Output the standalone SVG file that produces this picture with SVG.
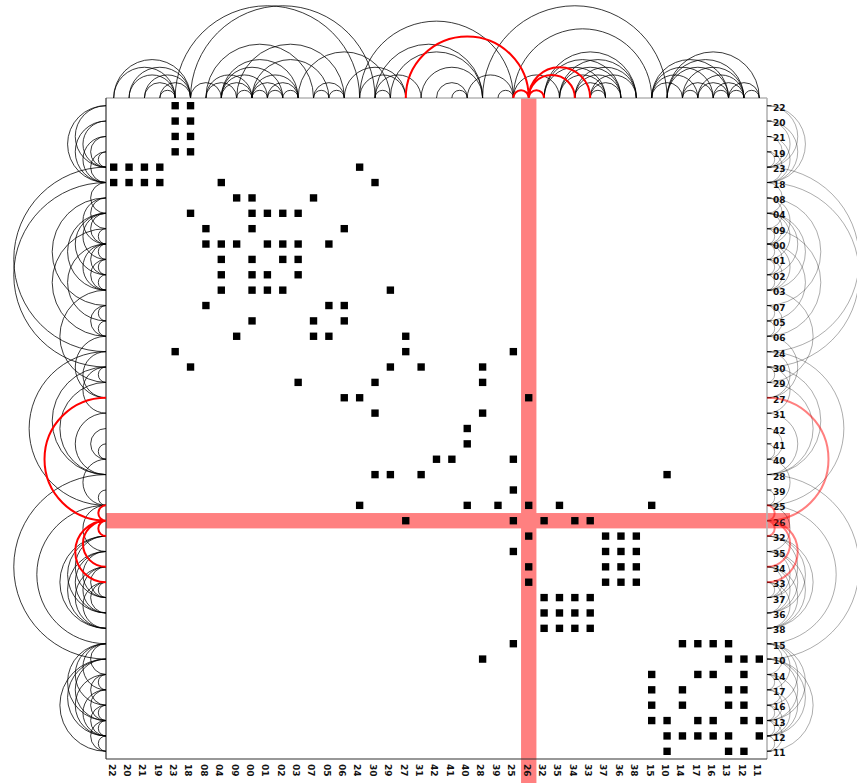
<svg xmlns="http://www.w3.org/2000/svg" xmlns:xlink="http://www.w3.org/1999/xlink" width="857" height="783" viewBox="0 0 857 783">
<style>
.lb{font-family:"DejaVu Sans","Liberation Sans",sans-serif;font-size:9px;font-weight:bold;fill:#111}
.q{fill:#000}
.band{fill:#ff8080}
.dk{stroke:#333;stroke-width:1.2;fill:none}
.lt{stroke:#b4b4b4;stroke-width:1.6;fill:none}
.arcK{fill:none;stroke:#000;stroke-opacity:.78;stroke-width:.065}
.arcR{fill:none;stroke:#ff0000;stroke-width:.13}
.arcKg{fill:none;stroke:#000;stroke-opacity:.33;stroke-width:.065}
.arcRg{fill:none;stroke:#ff0000;stroke-opacity:.5;stroke-width:.13}
</style>
<defs>
<rect id="q" class="q" x="0.26" y="0.26" width="0.48" height="0.48"/>
<path id="arcs" d="M.5 0A2 2 0 0 1 4.5 0M.5 0A2.5 2.5 0 0 1 5.5 0M1.5 0A1.5 1.5 0 0 1 4.5 0M1.5 0A2 2 0 0 1 5.5 0M2.5 0A1 1 0 0 1 4.5 0M2.5 0A1.5 1.5 0 0 1 5.5 0M3.5 0A.5 .5 0 0 1 4.5 0M3.5 0A1 1 0 0 1 5.5 0M4.5 0A6 6 0 0 1 16.5 0M5.5 0A1 1 0 0 1 7.5 0M5.5 0A6 6 0 0 1 17.5 0M6.5 0A1 1 0 0 1 8.5 0M6.5 0A1.5 1.5 0 0 1 9.5 0M6.5 0A3.5 3.5 0 0 1 13.5 0M7.5 0A1 1 0 0 1 9.5 0M7.5 0A1.5 1.5 0 0 1 10.5 0M7.5 0A2 2 0 0 1 11.5 0M7.5 0A2.5 2.5 0 0 1 12.5 0M8.5 0A.5 .5 0 0 1 9.5 0M8.5 0A3.5 3.5 0 0 1 15.5 0M9.5 0A.5 .5 0 0 1 10.5 0M9.5 0A1 1 0 0 1 11.5 0M9.5 0A1.5 1.5 0 0 1 12.5 0M9.5 0A2.5 2.5 0 0 1 14.5 0M10.5 0A.5 .5 0 0 1 11.5 0M10.5 0A1 1 0 0 1 12.5 0M11.5 0A.5 .5 0 0 1 12.5 0M12.5 0A3 3 0 0 1 18.5 0M13.5 0A.5 .5 0 0 1 14.5 0M13.5 0A1 1 0 0 1 15.5 0M14.5 0A.5 .5 0 0 1 15.5 0M15.5 0A2 2 0 0 1 19.5 0M16.5 0A1.5 1.5 0 0 1 19.5 0M16.5 0A5 5 0 0 1 26.5 0M17.5 0A.5 .5 0 0 1 18.5 0M17.5 0A1.5 1.5 0 0 1 20.5 0M17.5 0A3.5 3.5 0 0 1 24.5 0M18.5 0A3 3 0 0 1 24.5 0M20.5 0A2 2 0 0 1 24.5 0M21.5 0A1 1 0 0 1 23.5 0M22.5 0A.5 .5 0 0 1 23.5 0M23.5 0A1.5 1.5 0 0 1 26.5 0M24.5 0A6 6 0 0 1 36.5 0M25.5 0A.5 .5 0 0 1 26.5 0M26.5 0A1.5 1.5 0 0 1 29.5 0M26.5 0A4.5 4.5 0 0 1 35.5 0M28.5 0A2 2 0 0 1 32.5 0M28.5 0A2.5 2.5 0 0 1 33.5 0M28.5 0A3 3 0 0 1 34.5 0M29.5 0A1.5 1.5 0 0 1 32.5 0M29.5 0A2 2 0 0 1 33.5 0M29.5 0A2.5 2.5 0 0 1 34.5 0M30.5 0A1 1 0 0 1 32.5 0M30.5 0A1.5 1.5 0 0 1 33.5 0M30.5 0A2 2 0 0 1 34.5 0M31.5 0A.5 .5 0 0 1 32.5 0M31.5 0A1 1 0 0 1 33.5 0M31.5 0A1.5 1.5 0 0 1 34.5 0M35.5 0A1 1 0 0 1 37.5 0M35.5 0A1.5 1.5 0 0 1 38.5 0M35.5 0A2 2 0 0 1 39.5 0M35.5 0A2.5 2.5 0 0 1 40.5 0M36.5 0A2 2 0 0 1 40.5 0M36.5 0A2.5 2.5 0 0 1 41.5 0M36.5 0A3 3 0 0 1 42.5 0M37.5 0A.5 .5 0 0 1 38.5 0M37.5 0A1 1 0 0 1 39.5 0M37.5 0A2 2 0 0 1 41.5 0M38.5 0A1 1 0 0 1 40.5 0M38.5 0A1.5 1.5 0 0 1 41.5 0M39.5 0A.5 .5 0 0 1 40.5 0M39.5 0A1 1 0 0 1 41.5 0M40.5 0A.5 .5 0 0 1 41.5 0M40.5 0A1 1 0 0 1 42.5 0M41.5 0A.5 .5 0 0 1 42.5 0"/>
<path id="reds" d="M19.5 0A4 4 0 0 1 27.5 0M26.5 0A.5 .5 0 0 1 27.5 0M27.5 0A.5 .5 0 0 1 28.5 0M27.5 0A1.5 1.5 0 0 1 30.5 0M27.5 0A2 2 0 0 1 31.5 0"/>
</defs>
<rect width="857" height="783" fill="#fff"/>
<g id="highlight">
<rect class="band" x="521.05" y="98" width="15.37" height="685"/>
<rect class="band" x="106" y="513.04" width="684" height="15.37"/>
</g>
<g id="frame">
<line class="lt" x1="106" y1="98" x2="767" y2="98"/>
<line class="lt" x1="767" y1="98" x2="767" y2="759"/>
<line class="dk" x1="106" y1="98" x2="106" y2="759"/>
<line class="dk" x1="106" y1="759" x2="767" y2="759"/>
<line x1="769.25" y1="98" x2="769.25" y2="759" stroke="#222" stroke-width="4.5" stroke-dasharray="1 14.372" stroke-dashoffset="-7.186"/>
</g>
<g id="nodes">
<g id="n22"><text class="lb" x="773" y="110.7">22</text><text class="lb" transform="translate(108.5,764) rotate(90)">22</text><g transform="translate(106,98) scale(15.372)"><use href="#q" x="4" y="0"/><use href="#q" x="5" y="0"/></g></g>
<g id="n20"><text class="lb" x="773" y="126.1">20</text><text class="lb" transform="translate(123.9,764) rotate(90)">20</text><g transform="translate(106,98) scale(15.372)"><use href="#q" x="4" y="1"/><use href="#q" x="5" y="1"/></g></g>
<g id="n21"><text class="lb" x="773" y="141.4">21</text><text class="lb" transform="translate(139.2,764) rotate(90)">21</text><g transform="translate(106,98) scale(15.372)"><use href="#q" x="4" y="2"/><use href="#q" x="5" y="2"/></g></g>
<g id="n19"><text class="lb" x="773" y="156.8">19</text><text class="lb" transform="translate(154.6,764) rotate(90)">19</text><g transform="translate(106,98) scale(15.372)"><use href="#q" x="4" y="3"/><use href="#q" x="5" y="3"/></g></g>
<g id="n23"><text class="lb" x="773" y="172.2">23</text><text class="lb" transform="translate(170,764) rotate(90)">23</text><g transform="translate(106,98) scale(15.372)"><use href="#q" x="0" y="4"/><use href="#q" x="1" y="4"/><use href="#q" x="2" y="4"/><use href="#q" x="3" y="4"/><use href="#q" x="16" y="4"/></g></g>
<g id="n18"><text class="lb" x="773" y="187.5">18</text><text class="lb" transform="translate(185.4,764) rotate(90)">18</text><g transform="translate(106,98) scale(15.372)"><use href="#q" x="0" y="5"/><use href="#q" x="1" y="5"/><use href="#q" x="2" y="5"/><use href="#q" x="3" y="5"/><use href="#q" x="7" y="5"/><use href="#q" x="17" y="5"/></g></g>
<g id="n08"><text class="lb" x="773" y="202.9">08</text><text class="lb" transform="translate(200.7,764) rotate(90)">08</text><g transform="translate(106,98) scale(15.372)"><use href="#q" x="8" y="6"/><use href="#q" x="9" y="6"/><use href="#q" x="13" y="6"/></g></g>
<g id="n04"><text class="lb" x="773" y="218.3">04</text><text class="lb" transform="translate(216.1,764) rotate(90)">04</text><g transform="translate(106,98) scale(15.372)"><use href="#q" x="5" y="7"/><use href="#q" x="9" y="7"/><use href="#q" x="10" y="7"/><use href="#q" x="11" y="7"/><use href="#q" x="12" y="7"/></g></g>
<g id="n09"><text class="lb" x="773" y="233.7">09</text><text class="lb" transform="translate(231.5,764) rotate(90)">09</text><g transform="translate(106,98) scale(15.372)"><use href="#q" x="6" y="8"/><use href="#q" x="9" y="8"/><use href="#q" x="15" y="8"/></g></g>
<g id="n00"><text class="lb" x="773" y="249">00</text><text class="lb" transform="translate(246.8,764) rotate(90)">00</text><g transform="translate(106,98) scale(15.372)"><use href="#q" x="6" y="9"/><use href="#q" x="7" y="9"/><use href="#q" x="8" y="9"/><use href="#q" x="10" y="9"/><use href="#q" x="11" y="9"/><use href="#q" x="12" y="9"/><use href="#q" x="14" y="9"/></g></g>
<g id="n01"><text class="lb" x="773" y="264.4">01</text><text class="lb" transform="translate(262.2,764) rotate(90)">01</text><g transform="translate(106,98) scale(15.372)"><use href="#q" x="7" y="10"/><use href="#q" x="9" y="10"/><use href="#q" x="11" y="10"/><use href="#q" x="12" y="10"/></g></g>
<g id="n02"><text class="lb" x="773" y="279.8">02</text><text class="lb" transform="translate(277.6,764) rotate(90)">02</text><g transform="translate(106,98) scale(15.372)"><use href="#q" x="7" y="11"/><use href="#q" x="9" y="11"/><use href="#q" x="10" y="11"/><use href="#q" x="12" y="11"/></g></g>
<g id="n03"><text class="lb" x="773" y="295.2">03</text><text class="lb" transform="translate(293,764) rotate(90)">03</text><g transform="translate(106,98) scale(15.372)"><use href="#q" x="7" y="12"/><use href="#q" x="9" y="12"/><use href="#q" x="10" y="12"/><use href="#q" x="11" y="12"/><use href="#q" x="18" y="12"/></g></g>
<g id="n07"><text class="lb" x="773" y="310.5">07</text><text class="lb" transform="translate(308.3,764) rotate(90)">07</text><g transform="translate(106,98) scale(15.372)"><use href="#q" x="6" y="13"/><use href="#q" x="14" y="13"/><use href="#q" x="15" y="13"/></g></g>
<g id="n05"><text class="lb" x="773" y="325.9">05</text><text class="lb" transform="translate(323.7,764) rotate(90)">05</text><g transform="translate(106,98) scale(15.372)"><use href="#q" x="9" y="14"/><use href="#q" x="13" y="14"/><use href="#q" x="15" y="14"/></g></g>
<g id="n06"><text class="lb" x="773" y="341.3">06</text><text class="lb" transform="translate(339.1,764) rotate(90)">06</text><g transform="translate(106,98) scale(15.372)"><use href="#q" x="8" y="15"/><use href="#q" x="13" y="15"/><use href="#q" x="14" y="15"/><use href="#q" x="19" y="15"/></g></g>
<g id="n24"><text class="lb" x="773" y="356.6">24</text><text class="lb" transform="translate(354.4,764) rotate(90)">24</text><g transform="translate(106,98) scale(15.372)"><use href="#q" x="4" y="16"/><use href="#q" x="19" y="16"/><use href="#q" x="26" y="16"/></g></g>
<g id="n30"><text class="lb" x="773" y="372">30</text><text class="lb" transform="translate(369.8,764) rotate(90)">30</text><g transform="translate(106,98) scale(15.372)"><use href="#q" x="5" y="17"/><use href="#q" x="18" y="17"/><use href="#q" x="20" y="17"/><use href="#q" x="24" y="17"/></g></g>
<g id="n29"><text class="lb" x="773" y="387.4">29</text><text class="lb" transform="translate(385.2,764) rotate(90)">29</text><g transform="translate(106,98) scale(15.372)"><use href="#q" x="12" y="18"/><use href="#q" x="17" y="18"/><use href="#q" x="24" y="18"/></g></g>
<g id="n27"><text class="lb" x="773" y="402.8">27</text><text class="lb" transform="translate(400.6,764) rotate(90)">27</text><g transform="translate(106,98) scale(15.372)"><use href="#q" x="15" y="19"/><use href="#q" x="16" y="19"/><use href="#q" x="27" y="19"/></g></g>
<g id="n31"><text class="lb" x="773" y="418.1">31</text><text class="lb" transform="translate(415.9,764) rotate(90)">31</text><g transform="translate(106,98) scale(15.372)"><use href="#q" x="17" y="20"/><use href="#q" x="24" y="20"/></g></g>
<g id="n42"><text class="lb" x="773" y="433.5">42</text><text class="lb" transform="translate(431.3,764) rotate(90)">42</text><g transform="translate(106,98) scale(15.372)"><use href="#q" x="23" y="21"/></g></g>
<g id="n41"><text class="lb" x="773" y="448.9">41</text><text class="lb" transform="translate(446.7,764) rotate(90)">41</text><g transform="translate(106,98) scale(15.372)"><use href="#q" x="23" y="22"/></g></g>
<g id="n40"><text class="lb" x="773" y="464.2">40</text><text class="lb" transform="translate(462,764) rotate(90)">40</text><g transform="translate(106,98) scale(15.372)"><use href="#q" x="21" y="23"/><use href="#q" x="22" y="23"/><use href="#q" x="26" y="23"/></g></g>
<g id="n28"><text class="lb" x="773" y="479.6">28</text><text class="lb" transform="translate(477.4,764) rotate(90)">28</text><g transform="translate(106,98) scale(15.372)"><use href="#q" x="17" y="24"/><use href="#q" x="18" y="24"/><use href="#q" x="20" y="24"/><use href="#q" x="36" y="24"/></g></g>
<g id="n39"><text class="lb" x="773" y="495">39</text><text class="lb" transform="translate(492.8,764) rotate(90)">39</text><g transform="translate(106,98) scale(15.372)"><use href="#q" x="26" y="25"/></g></g>
<g id="n25"><text class="lb" x="773" y="510.4">25</text><text class="lb" transform="translate(508.2,764) rotate(90)">25</text><g transform="translate(106,98) scale(15.372)"><use href="#q" x="16" y="26"/><use href="#q" x="23" y="26"/><use href="#q" x="25" y="26"/><use href="#q" x="27" y="26"/><use href="#q" x="29" y="26"/><use href="#q" x="35" y="26"/></g></g>
<g id="n26"><text class="lb" x="773" y="525.7">26</text><text class="lb" transform="translate(523.5,764) rotate(90)">26</text><g transform="translate(106,98) scale(15.372)"><use href="#q" x="19" y="27"/><use href="#q" x="26" y="27"/><use href="#q" x="28" y="27"/><use href="#q" x="30" y="27"/><use href="#q" x="31" y="27"/></g></g>
<g id="n32"><text class="lb" x="773" y="541.1">32</text><text class="lb" transform="translate(538.9,764) rotate(90)">32</text><g transform="translate(106,98) scale(15.372)"><use href="#q" x="27" y="28"/><use href="#q" x="32" y="28"/><use href="#q" x="33" y="28"/><use href="#q" x="34" y="28"/></g></g>
<g id="n35"><text class="lb" x="773" y="556.5">35</text><text class="lb" transform="translate(554.3,764) rotate(90)">35</text><g transform="translate(106,98) scale(15.372)"><use href="#q" x="26" y="29"/><use href="#q" x="32" y="29"/><use href="#q" x="33" y="29"/><use href="#q" x="34" y="29"/></g></g>
<g id="n34"><text class="lb" x="773" y="571.8">34</text><text class="lb" transform="translate(569.7,764) rotate(90)">34</text><g transform="translate(106,98) scale(15.372)"><use href="#q" x="27" y="30"/><use href="#q" x="32" y="30"/><use href="#q" x="33" y="30"/><use href="#q" x="34" y="30"/></g></g>
<g id="n33"><text class="lb" x="773" y="587.2">33</text><text class="lb" transform="translate(585,764) rotate(90)">33</text><g transform="translate(106,98) scale(15.372)"><use href="#q" x="27" y="31"/><use href="#q" x="32" y="31"/><use href="#q" x="33" y="31"/><use href="#q" x="34" y="31"/></g></g>
<g id="n37"><text class="lb" x="773" y="602.6">37</text><text class="lb" transform="translate(600.4,764) rotate(90)">37</text><g transform="translate(106,98) scale(15.372)"><use href="#q" x="28" y="32"/><use href="#q" x="29" y="32"/><use href="#q" x="30" y="32"/><use href="#q" x="31" y="32"/></g></g>
<g id="n36"><text class="lb" x="773" y="618">36</text><text class="lb" transform="translate(615.8,764) rotate(90)">36</text><g transform="translate(106,98) scale(15.372)"><use href="#q" x="28" y="33"/><use href="#q" x="29" y="33"/><use href="#q" x="30" y="33"/><use href="#q" x="31" y="33"/></g></g>
<g id="n38"><text class="lb" x="773" y="633.3">38</text><text class="lb" transform="translate(631.1,764) rotate(90)">38</text><g transform="translate(106,98) scale(15.372)"><use href="#q" x="28" y="34"/><use href="#q" x="29" y="34"/><use href="#q" x="30" y="34"/><use href="#q" x="31" y="34"/></g></g>
<g id="n15"><text class="lb" x="773" y="648.7">15</text><text class="lb" transform="translate(646.5,764) rotate(90)">15</text><g transform="translate(106,98) scale(15.372)"><use href="#q" x="26" y="35"/><use href="#q" x="37" y="35"/><use href="#q" x="38" y="35"/><use href="#q" x="39" y="35"/><use href="#q" x="40" y="35"/></g></g>
<g id="n10"><text class="lb" x="773" y="664.1">10</text><text class="lb" transform="translate(661.9,764) rotate(90)">10</text><g transform="translate(106,98) scale(15.372)"><use href="#q" x="24" y="36"/><use href="#q" x="40" y="36"/><use href="#q" x="41" y="36"/><use href="#q" x="42" y="36"/></g></g>
<g id="n14"><text class="lb" x="773" y="679.5">14</text><text class="lb" transform="translate(677.3,764) rotate(90)">14</text><g transform="translate(106,98) scale(15.372)"><use href="#q" x="35" y="37"/><use href="#q" x="38" y="37"/><use href="#q" x="39" y="37"/><use href="#q" x="41" y="37"/></g></g>
<g id="n17"><text class="lb" x="773" y="694.8">17</text><text class="lb" transform="translate(692.6,764) rotate(90)">17</text><g transform="translate(106,98) scale(15.372)"><use href="#q" x="35" y="38"/><use href="#q" x="37" y="38"/><use href="#q" x="40" y="38"/><use href="#q" x="41" y="38"/></g></g>
<g id="n16"><text class="lb" x="773" y="710.2">16</text><text class="lb" transform="translate(708,764) rotate(90)">16</text><g transform="translate(106,98) scale(15.372)"><use href="#q" x="35" y="39"/><use href="#q" x="37" y="39"/><use href="#q" x="40" y="39"/><use href="#q" x="41" y="39"/></g></g>
<g id="n13"><text class="lb" x="773" y="725.6">13</text><text class="lb" transform="translate(723.4,764) rotate(90)">13</text><g transform="translate(106,98) scale(15.372)"><use href="#q" x="35" y="40"/><use href="#q" x="36" y="40"/><use href="#q" x="38" y="40"/><use href="#q" x="39" y="40"/><use href="#q" x="41" y="40"/><use href="#q" x="42" y="40"/></g></g>
<g id="n12"><text class="lb" x="773" y="740.9">12</text><text class="lb" transform="translate(738.7,764) rotate(90)">12</text><g transform="translate(106,98) scale(15.372)"><use href="#q" x="36" y="41"/><use href="#q" x="37" y="41"/><use href="#q" x="38" y="41"/><use href="#q" x="39" y="41"/><use href="#q" x="40" y="41"/><use href="#q" x="42" y="41"/></g></g>
<g id="n11"><text class="lb" x="773" y="756.3">11</text><text class="lb" transform="translate(754.1,764) rotate(90)">11</text><g transform="translate(106,98) scale(15.372)"><use href="#q" x="36" y="42"/><use href="#q" x="40" y="42"/><use href="#q" x="41" y="42"/></g></g>
</g>
<g id="connectors">
<use href="#arcs" class="arcK" transform="translate(106,98) scale(15.372)"/>
<use href="#arcs" class="arcK" transform="translate(106,98) scale(15.372) matrix(0,1,1,0,0,0)"/>
<use href="#arcs" class="arcKg" transform="translate(767,98) scale(15.372) matrix(0,1,-1,0,0,0)"/>
<use href="#reds" class="arcR" transform="translate(106,98) scale(15.372)"/>
<use href="#reds" class="arcR" transform="translate(106,98) scale(15.372) matrix(0,1,1,0,0,0)"/>
<use href="#reds" class="arcRg" transform="translate(767,98) scale(15.372) matrix(0,1,-1,0,0,0)"/>
</g>
</svg>
